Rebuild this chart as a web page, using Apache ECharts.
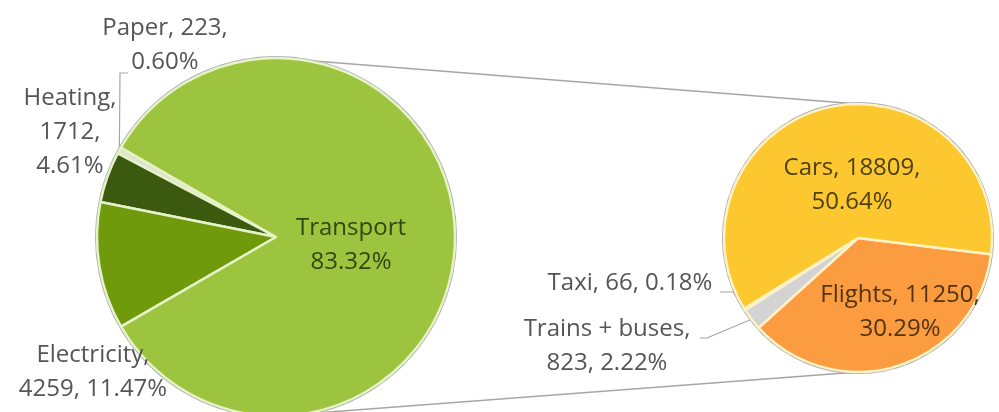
<!DOCTYPE html>
<html>
<head>
<meta charset="utf-8">
<script src="https://cdn.jsdelivr.net/npm/echarts@6/dist/echarts.min.js"></script>
<style>
html, body { margin: 0; padding: 0; background: #fff; }
#main { width: 999px; height: 412px; }
</style>
</head>
<body>
<div id="main"></div>
<script>
// data
var mainNames = ['Paper', 'Heating', 'Electricity', 'Transport'];
var mainValues = [223, 1712, 4259, 30948];
var subNames = ['Flights', 'Trains + buses', 'Taxi', 'Cars'];
var subValues = [11250, 823, 66, 18809];

var total = mainValues.reduce(function (a, b) { return a + b; }, 0);

// geometry / styles
var leftPie = { cx: 276, cy: 237, r: 179, start: 150, clockwise: false };
var rightPie = { cx: 858, cy: 238, r: 134, start: -7, clockwise: true };

var colors = {
    'Paper': '#dde6cc', 'Heating': '#3b5a10', 'Electricity': '#6e9a0c', 'Transport': '#9cc43f',
    'Flights': '#fb9c40', 'Trains + buses': '#d3d3d3', 'Taxi': '#d8d0e8', 'Cars': '#fdc82f'
};
var textColors = { 'Transport': '#34460f', 'Cars': '#4f410f', 'Flights': '#53340e' };

// label text pieces: separators after name and after value
var labelSep = {
    'Paper': [', ', ',\n'], 'Heating': [',\n', ',\n'], 'Electricity': [',\n', ', '],
    'Cars': [', ', ',\n'], 'Flights': [', ', ',\n'], 'Taxi': [', ', ', '], 'Trains + buses': [',\n', ', ']
};

// label centre offsets from pie centre, plus leader line elbow/end
var labelPos = {
    'Paper': { dx: -111, dy: -192, line: [[-156, -164], [-148, -164]] },
    'Heating': { dx: -206, dy: -105 },
    'Electricity': { dx: -183, dy: 135 },
    'Transport': { dx: 75, dy: 8 },
    'Cars': { dx: -6, dy: -53 },
    'Flights': { dx: 42, dy: 74 },
    'Taxi': { dx: -228, dy: 45, line: [[-125, 54], [-138, 54]] },
    'Trains + buses': { dx: -251, dy: 108, line: [[-151, 100], [-158, 100]] }
};

function pct(v) { return (v / total * 100).toFixed(2) + '%'; }

function labelText(p) {
    var s = labelSep[p.name];
    if (!s) return p.name + '\n' + pct(p.value);
    return p.name + s[0] + p.value + s[1] + pct(p.value);
}

function buildData(names, values) {
    return names.map(function (n, i) {
        return {
            name: n,
            value: values[i],
            itemStyle: { color: colors[n] },
            label: { color: textColors[n] || '#555555' },
            labelLine: { show: !!labelPos[n].line }
        };
    });
}

// point on the rim at the middle of slice i
function rimPoint(values, i, pie) {
    var sum = values.reduce(function (a, b) { return a + b; }, 0);
    var before = values.slice(0, i).reduce(function (a, b) { return a + b; }, 0);
    var frac = (before + values[i] / 2) / sum;
    var ang = (pie.start + (pie.clockwise ? -1 : 1) * frac * 360) * Math.PI / 180;
    return [pie.cx + pie.r * Math.cos(ang), pie.cy - pie.r * Math.sin(ang)];
}

function layoutFor(names, values, pie) {
    return function (p) {
        var L = labelPos[names[p.dataIndex]];
        var out = { x: pie.cx + L.dx, y: pie.cy + L.dy, align: 'center', verticalAlign: 'middle' };
        if (L.line) {
            out.labelLinePoints = [
                rimPoint(values, p.dataIndex, pie),
                [pie.cx + L.line[0][0], pie.cy + L.line[0][1]],
                [pie.cx + L.line[1][0], pie.cy + L.line[1][1]]
            ];
        }
        return out;
    };
}

var labelFont = { fontFamily: 'Open Sans', fontSize: 24, lineHeight: 34 };

function outline(pie) {
    return {
        type: 'pie', silent: true, z: 1,
        center: [pie.cx, pie.cy], radius: [0, pie.r + 2],
        label: { show: false }, labelLine: { show: false },
        itemStyle: { color: '#a9a9a9' },
        data: [{ value: 1 }]
    };
}

function mainSeries(names, values, pie, border) {
    return {
        type: 'pie', z: 3,
        center: [pie.cx, pie.cy],
        radius: [0, pie.r],
        startAngle: pie.start,
        clockwise: pie.clockwise,
        avoidLabelOverlap: false,
        itemStyle: { borderColor: border, borderWidth: 2.5 },
        label: Object.assign({ show: true, position: 'outside', formatter: labelText }, labelFont),
        labelLine: { lineStyle: { color: '#a6a6a6', width: 1.2 } },
        labelLayout: layoutFor(names, values, pie),
        data: buildData(names, values)
    };
}

var myChart = echarts.init(document.getElementById('main'));
var option = {
    backgroundColor: '#ffffff',
    animation: false,
    graphic: [
        {
            type: 'line', z: 0,
            shape: { x1: leftPie.cx, y1: leftPie.cy - leftPie.r, x2: rightPie.cx, y2: rightPie.cy - rightPie.r },
            style: { stroke: '#a6a6a6', lineWidth: 1.5 }
        },
        {
            type: 'line', z: 0,
            shape: { x1: leftPie.cx, y1: leftPie.cy + leftPie.r, x2: rightPie.cx, y2: rightPie.cy + rightPie.r },
            style: { stroke: '#a6a6a6', lineWidth: 1.5 }
        }
    ],
    series: [
        outline(leftPie),
        outline(rightPie),
        mainSeries(mainNames, mainValues, leftPie, '#e6f2c8'),
        mainSeries(subNames, subValues, rightPie, '#fff2c6')
    ]
};
myChart.setOption(option);
</script>
</body>
</html>
